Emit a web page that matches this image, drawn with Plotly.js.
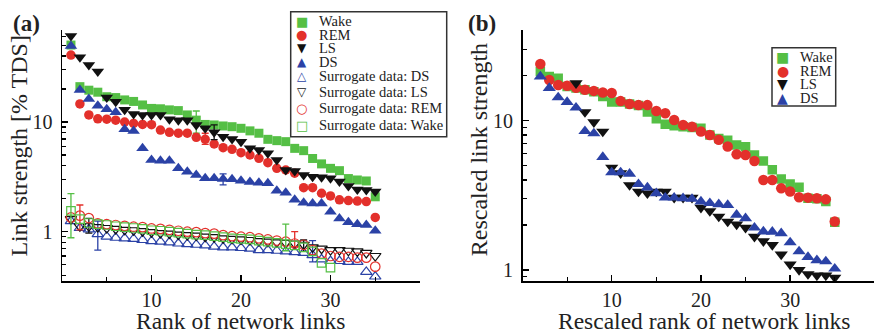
<!DOCTYPE html>
<html>
<head>
<meta charset="utf-8">
<script src="https://cdn.plot.ly/plotly-3.0.1.min.js"></script>
<style>html,body{margin:0;padding:0;background:#fff;}#chart{width:874px;height:335px;}</style>
</head>
<body>
<div id="chart"></div>
<script>
// ---------- data: panel (a) ----------
const rankA = [1,2,3,4,5,6,7,8,9,10,11,12,13,14,15,16,17,18,19,20,21,22,23,24,25,26,27,28,29,30,31,32,33,34,35];
const rankSurWake = [1,2,3,4,5,6,7,8,9,10,11,12,13,14,15,16,17,18,19,20,21,22,23,24,25,26,27,28,29,30];
const wakeA = [50.3,21.0,19.5,18.7,17.0,16.7,15.9,15.4,14.3,13.3,13.2,12.9,12.7,11.6,10.4,9.5,9.4,9.2,9.06,8.76,8.3,7.9,6.95,6.76,6.62,5.75,5.48,4.65,4.15,3.78,3.6,3.05,2.96,2.9,2.08];
const remA  = [40.8,14.6,11.6,10.7,10.6,10.4,10.0,9.7,9.5,9.45,8.45,8.05,7.9,7.9,7.25,6.95,6.3,5.83,5.64,5.25,5.0,4.67,4.26,3.78,3.65,3.41,2.52,2.52,2.24,2.12,1.95,1.92,1.9,1.88,1.35];
const lsA   = [60.8,38.9,33.1,28.8,16.7,15.3,12.9,11.8,11.6,11.6,11.6,10.6,10.4,10.4,9.4,8.76,8.05,7.35,7.0,6.62,5.75,5.56,5.18,4.5,3.65,3.57,3.29,3.17,3.13,3.07,2.86,2.61,2.43,2.4,2.32];
const dsA   = [49.3,19.6,16.2,14.1,13.1,12.3,8.58,8.28,5.75,4.5,4.44,4.44,3.78,3.52,3.29,3.07,3.07,3.02,3.0,2.92,2.84,2.8,2.76,2.36,2.27,1.95,1.84,1.81,1.81,1.52,1.32,1.22,1.17,1.15,1.02];
const surDS   = [1.25,1.08,1.05,0.95,0.90,0.88,0.87,0.86,0.84,0.82,0.81,0.80,0.78,0.77,0.76,0.75,0.73,0.72,0.72,0.71,0.70,0.68,0.68,0.67,0.66,0.65,0.64,0.61,0.56,0.54,0.54,0.53,0.53,0.43,0.39];
const surLS   = [1.30,1.12,1.12,1.10,1.08,1.06,1.04,1.03,1.01,0.99,0.97,0.96,0.94,0.93,0.92,0.90,0.89,0.87,0.86,0.85,0.84,0.82,0.81,0.80,0.79,0.78,0.76,0.72,0.70,0.68,0.68,0.67,0.66,0.64,0.60];
const surREM  = [1.35,1.40,1.33,1.19,1.17,1.15,1.13,1.11,1.10,1.07,1.06,1.04,1.02,1.00,0.99,0.97,0.96,0.93,0.91,0.90,0.89,0.87,0.85,0.83,0.81,0.78,0.76,0.68,0.63,0.60,0.59,0.59,0.58,0.58,0.48];
const surWake = [1.55,1.30,1.20,1.17,1.15,1.12,1.10,1.08,1.06,1.03,1.02,1.00,0.98,0.96,0.94,0.93,0.91,0.89,0.87,0.86,0.85,0.83,0.81,0.79,0.77,0.75,0.72,0.66,0.52,0.47];

// error bars: [rank, plus, minus]
const errWakeA = [[15, 2.2, 2.5]];
const errRemA  = [[16, 0.95, 0.7]];
const errLsA   = [[17, 1.35, 1.15]];
const errDsA   = [[18, 0.34, 0.35]];
const errSurWake = [[1, 0.67, 0.67], [25, 0.40, 0.10]];
const errSurREM  = [[2, 0.35, 0.36], [26, 0.22, 0.05]];
const errSurLS   = [[3, 0.20, 0.15], [27, 0.08, 0.10]];
const errSurDS   = [[4, 0.30, 0.27], [28, 0.22, 0.08]];

// ---------- data: panel (b) ----------
const rankB   = [2,3,4,5,6,7,8,9,10,11,12,13,14,15,16,17,18,19,20,21,22,23,24,25,26,27,28,29,30,31,32,33,34,35];
const rankBls = [6,7,8,9,10,11,12,13,14,15,16,17,18,19,20,21,22,23,24,25,26,27,28,29,30,31,32,33,34,35];
const wakeB = [21.3,19.7,19.2,16.9,16.5,16.1,15.6,14.5,13.3,13.3,12.9,12.6,11.4,10.3,9.45,9.25,9.1,9.0,8.9,8.0,7.6,7.4,6.87,6.69,5.89,5.37,4.68,4.07,3.77,3.58,3.02,3.0,2.87,2.09];
const remB  = [23.9,18.7,17.3,17.1,16.6,16.1,15.8,15.4,15.3,13.5,12.9,12.7,12.7,11.6,11.2,10.1,9.35,9.1,8.45,8.0,7.43,6.7,5.96,5.89,5.37,4.0,4.0,3.52,3.35,3.07,3.05,3.02,2.97,2.11];
const lsB   = [17.8,11.4,9.75,8.45,4.85,4.45,3.7,3.35,3.26,3.35,3.35,3.05,3.05,3.05,2.61,2.48,2.28,2.11,2.02,1.92,1.67,1.56,1.47,1.27,1.09,1.0,0.94,0.92,0.92,0.89];
const dsB   = [19.7,16.5,14.3,13.3,12.2,8.5,8.2,5.7,4.5,4.5,4.4,3.75,3.56,3.26,3.05,3.05,3.02,2.99,2.87,2.8,2.75,2.72,2.34,2.22,1.92,1.81,1.8,1.76,1.53,1.33,1.22,1.16,1.14,1.02];

const xTickVals = [10,20,30,40];
const xTickText = ['10','20','30',''];
const xMinorVals = [5,15,25,35];
const yTickVals = [1,10];
const yTickText = ['1','10'];
const yMinorVals = [0.4,0.5,0.6,0.7,0.8,0.9,2,3,4,5,6,7,8,9,20,30,40,50,60];

const legendA = ['Wake','REM','LS','DS','Surrogate data: DS','Surrogate data: LS','Surrogate data: REM','Surrogate data: Wake'];
const legendB = ['Wake','REM','LS','DS'];

// ---------- styles ----------
const GREEN = '#55bf45', RED = '#e3302b', BLACK = '#111111', BLUE = '#2b42a6';
const W = 874, H = 335;
const px = v => v / W, py = v => 1 - v / H;
const SERIF = 'Liberation Serif, Times New Roman, serif';

function errArrays(xs, errs) {
  const plus = xs.map(() => NaN), minus = xs.map(() => NaN);
  errs.forEach(e => { const i = xs.indexOf(e[0]); plus[i] = e[1]; minus[i] = e[2]; });
  return {plus, minus};
}
function errObj(xs, errs, color) {
  const a = errArrays(xs, errs);
  return {type:'data', symmetric:false, array:a.plus, arrayminus:a.minus, color:color, thickness:1.3, width:3.5};
}
function tr(x, y, sym, color, size, xa, ya, errs, open) {
  const t = {x:x, y:y, type:'scatter', mode:'markers', xaxis:xa, yaxis:ya, showlegend:false, hoverinfo:'x+y',
    marker:{symbol:sym, color:color, size:size, line:{width: open ? 1.2 : 0, color:color}}};
  if (errs) t.error_y = errObj(x, errs, color);
  return t;
}

const data = [
  tr(rankA, wakeA, 'square', GREEN, 9, 'x', 'y', errWakeA),
  tr(rankA, remA, 'circle', RED, 9.5, 'x', 'y', errRemA),
  tr(rankA, lsA, 'triangle-down', BLACK, 11, 'x', 'y', errLsA),
  tr(rankA, dsA, 'triangle-up', BLUE, 11, 'x', 'y', errDsA),
  tr(rankA, surDS, 'triangle-up-open', BLUE, 10, 'x', 'y', errSurDS, true),
  tr(rankA, surLS, 'triangle-down-open', BLACK, 10, 'x', 'y', errSurLS, true),
  tr(rankA, surREM, 'circle-open', RED, 9.5, 'x', 'y', errSurREM, true),
  tr(rankSurWake, surWake, 'square-open', GREEN, 8.5, 'x', 'y', errSurWake, true),
  tr(rankB, wakeB, 'square', GREEN, 9.5, 'x2', 'y2'),
  tr(rankB, remB, 'circle', RED, 10.5, 'x2', 'y2'),
  tr(rankBls, lsB, 'triangle-down', BLACK, 11.5, 'x2', 'y2'),
  tr(rankB, dsB, 'triangle-up', BLUE, 11.5, 'x2', 'y2')
];

function xAxis(domain, range, anchor) {
  return {domain:domain, range:range, anchor:anchor, showline:true, linecolor:'#000', linewidth:1.5,
    ticks:'inside', ticklen:6, tickwidth:1.3, tickcolor:'#000', tickmode:'array', tickvals:xTickVals, ticktext:xTickText,
    minor:{tickmode:'array', tickvals:xMinorVals, ticks:'inside', ticklen:4, tickwidth:1.2, tickcolor:'#000', showgrid:false},
    showgrid:false, zeroline:false, automargin:false, ticklabelstandoff:0,
    tickfont:{family:SERIF, size:20, color:'#222'}};
}
function yAxis(domain, range, anchor) {
  return {type:'log', domain:domain, range:range, anchor:anchor, showline:true, linecolor:'#000', linewidth:1.5,
    ticks:'inside', ticklen:6, tickwidth:1.3, tickcolor:'#000', tickmode:'array', tickvals:yTickVals, ticktext:yTickText,
    minor:{tickmode:'array', tickvals:yMinorVals, ticks:'inside', ticklen:4, tickwidth:1.2, tickcolor:'#000', showgrid:false},
    showgrid:false, zeroline:false, automargin:false, ticklabelstandoff:4,
    tickfont:{family:SERIF, size:20, color:'#222'}};
}

const annotations = [];
function txt(text, x, y, opts) {
  annotations.push(Object.assign({text:text, x:px(x), y:py(y), xref:'paper', yref:'paper', showarrow:false,
    xanchor:'center', yanchor:'middle', font:{family:SERIF, size:24, color:'#222'}}, opts || {}));
}
txt('<b>(a)</b>', 26, 24, {font:{family:SERIF, size:23, color:'#222'}});
txt('<b>(b)</b>', 482, 24, {font:{family:SERIF, size:23, color:'#222'}});
txt('Link strength [% TDS]', 18.6, 146, {textangle:-90});
txt('Rescaled link strength', 479.2, 150, {textangle:-90});
txt('Rank of network links', 241, H, {yanchor:'bottom', borderpad:0, font:{family:SERIF, size:23.5, color:'#222'}});
txt('Rescaled rank of network links', 704, H, {yanchor:'bottom', borderpad:0, font:{family:SERIF, size:23.5, color:'#222'}});

// legend (a)
const symA = ['\u25A0','\u25CF','\u25BC','\u25B2','\u25B3','\u25BD','\u25CB','\u25A1'];
const colA = [GREEN, RED, BLACK, BLUE, BLUE, BLACK, RED, GREEN];
const rowA = [21.3, 34.7, 48.3, 62, 76, 91.7, 108.3, 125.3];
const symSizeA = [13, 13, 12, 12, 12, 12, 13, 13];
legendA.forEach((name, i) => {
  txt(symA[i], 301.7, rowA[i], {font:{family:'DejaVu Sans', size:symSizeA[i], color:colA[i]}});
  txt(name, 316.7, rowA[i], {xanchor:'left', font:{family:SERIF, size:14.5, color:'#222'}});
});
// legend (b)
const symB = ['\u25A0','\u25CF','\u25BC','\u25B2'];
const colB = [GREEN, RED, BLACK, BLUE];
const rowB = [57.3, 70.7, 84.3, 97.7];
legendB.forEach((name, i) => {
  txt(symB[i], 782.7, rowB[i], {font:{family:'DejaVu Sans', size:14, color:colB[i]}});
  txt(name, 798, rowB[i], {xanchor:'left', font:{family:SERIF, size:14.5, color:'#222'}});
});

const shapes = [
  {type:'rect', xref:'paper', yref:'paper', x0:px(290.7), x1:px(446.7), y0:py(136.7), y1:py(11.7),
   line:{color:'#333', width:1.5}, fillcolor:'#fff', layer:'above'},
  {type:'rect', xref:'paper', yref:'paper', x0:px(772), x1:px(835.7), y0:py(106), y1:py(47.7),
   line:{color:'#333', width:1.5}, fillcolor:'#fff', layer:'above'}
];

const layout = {
  width:W, height:H, margin:{l:0, r:0, t:0, b:0}, paper_bgcolor:'#fff', plot_bgcolor:'rgba(0,0,0,0)',
  showlegend:false,
  xaxis: xAxis([px(62), px(420)], [0, 40], 'y'),
  yaxis: yAxis([1 - 281/H, 1 - 30/H], [Math.log10(0.355), Math.log10(69)], 'x'),
  xaxis2: xAxis([px(522.5), 1], [0, 39.4], 'y2'),
  yaxis2: yAxis([1 - 281/H, 1 - 30/H], [Math.log10(0.844), Math.log10(40.4)], 'x2'),
  annotations: annotations, shapes: shapes
};

Plotly.newPlot('chart', data, layout, {staticPlot:true, displayModeBar:false});
</script>
</body>
</html>
